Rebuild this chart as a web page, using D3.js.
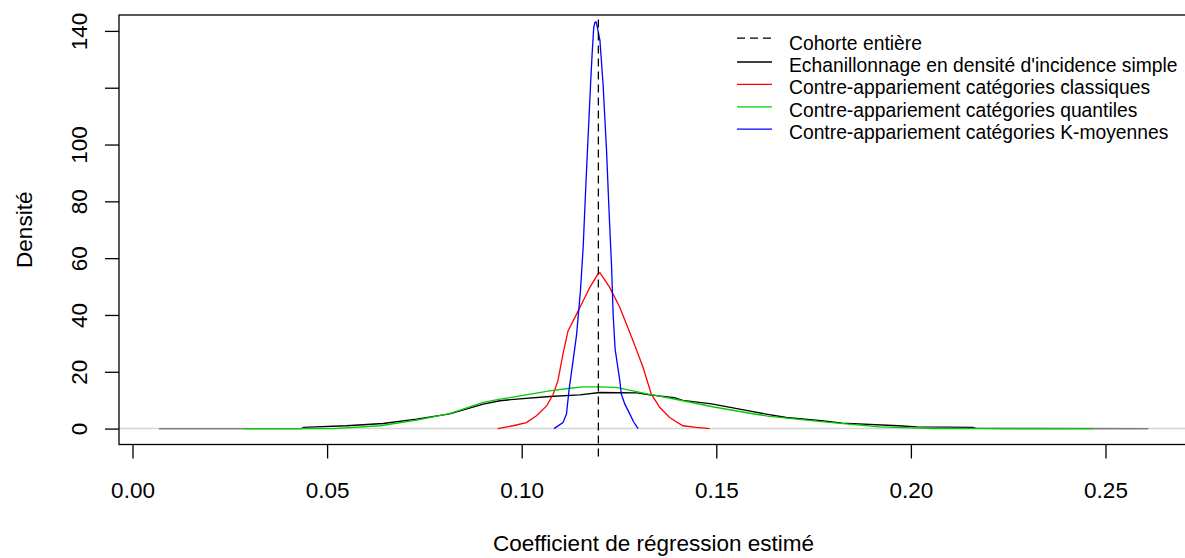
<!DOCTYPE html>
<html>
<head>
<meta charset="utf-8">
<script src="https://cdn.jsdelivr.net/npm/d3@7"></script>
<style>
  body { margin: 0; background: #fff; }
  svg { display: block; font-family: "Liberation Sans", Arial, Helvetica, sans-serif; }
</style>
</head>
<body>
<div id="chart"></div>
<script>
// Tick values / labels
const xTicks = [0.00, 0.05, 0.10, 0.15, 0.20, 0.25];
const yTicks = [0, 20, 40, 60, 80, 100, 120, 140];
const yTickLabels = ["0", "20", "40", "60", "80", "100", "", "140"]; // 120 dropped (overlap in R)

// Density curves: [coefficient, density]
const simpleData = [
  [0.0068, 0], [0.0435, 0], [0.0439, 0.4], [0.055, 1.0], [0.0644, 1.8], [0.073, 3.3],
  [0.0815, 5.2], [0.0901, 8.6], [0.0944, 9.8], [0.0987, 10.4], [0.1072, 11.3],
  [0.1149, 11.9], [0.1201, 12.7], [0.1296, 12.6], [0.1329, 11.9], [0.1392, 10.9],
  [0.1414, 9.9], [0.1488, 8.7], [0.1584, 6.2], [0.1632, 5.0], [0.168, 3.9],
  [0.1776, 2.7], [0.1823, 1.9], [0.1967, 1.0], [0.2015, 0.6], [0.2159, 0.4],
  [0.2168, 0.05], [0.261, 0]
];
const classicData = [
  [0.0938, 0], [0.0978, 1.0], [0.1012, 2.1], [0.1038, 4.5], [0.1064, 8.0], [0.1081, 12.1],
  [0.1093, 16.8], [0.1106, 26.2], [0.1119, 34.4], [0.1141, 40.3], [0.1158, 45.0],
  [0.1175, 49.7], [0.1196, 54.4], [0.1201, 54.9], [0.1226, 49.7], [0.1252, 42.7],
  [0.1286, 30.9], [0.1312, 21.5], [0.1333, 12.1], [0.1355, 7.4], [0.1380, 3.9],
  [0.1414, 1.0], [0.1449, 0.4], [0.1483, 0]
];
const quantileData = [
  [0.0284, 0], [0.0516, 0], [0.0636, 1.0], [0.073, 3.0], [0.0815, 5.3], [0.0901, 9.2],
  [0.0944, 10.4], [0.0969, 10.9], [0.1072, 13.3], [0.1124, 14.2], [0.1158, 14.7],
  [0.12, 14.7], [0.1243, 14.5], [0.1286, 13.3], [0.1325, 12.1], [0.1337, 11.9],
  [0.1414, 9.8], [0.1494, 7.6], [0.1586, 5.4], [0.1632, 4.4], [0.1776, 2.4],
  [0.1919, 0.6], [0.2063, 0], [0.247, 0]
];
const kmeansData = [
  [0.1083, 0], [0.1106, 2.1], [0.1115, 5.1], [0.1122, 14], [0.1132, 23.9], [0.1141, 33],
  [0.1151, 48.6], [0.1158, 64], [0.1165, 86.3], [0.1171, 103.8], [0.1177, 121.4],
  [0.1181, 132], [0.1185, 141], [0.1188, 143], [0.1191, 143.2], [0.1194, 141.5],
  [0.1201, 136.7], [0.1209, 121.4], [0.1218, 97.9], [0.1224, 77.9], [0.1231, 56.8],
  [0.1235, 40], [0.1240, 28], [0.1252, 17], [0.1256, 12.1], [0.1265, 8.6],
  [0.1278, 5.1], [0.1287, 2.5], [0.1299, 0]
];
const fullCohortCoef = 0.1197;

const legendLabels = [
  "Cohorte entière",
  "Echanillonnage en densité d'incidence simple",
  "Contre-appariement catégories classiques",
  "Contre-appariement catégories quantiles",
  "Contre-appariement catégories K-moyennes"
];
const legendColors = ["#000000", "#000000", "#ff0000", "#00cd00", "#0000ff"];

// Layout
const width = 1185, height = 558;
const plot = { left: 119, right: 1188, top: 15, bottom: 444.5 };

const svg = d3.select("#chart").append("svg")
  .attr("width", width)
  .attr("height", height);

// Scales (R style 4% padding)
const x = d3.scaleLinear()
  .domain([-0.00347, 0.2712])
  .range([plot.left, plot.right]);

const y = d3.scaleLinear()
  .domain([-5.6, 145.6])
  .range([plot.bottom, plot.top]);

const line = d3.line()
  .x(d => x(d[0]))
  .y(d => y(d[1]));

// Curves, drawn in R order
svg.append("path")
  .datum(simpleData)
  .attr("d", line)
  .attr("fill", "none")
  .attr("stroke", legendColors[1])
  .attr("stroke-width", 1.3);

// horizontal reference at 0
svg.append("line")
  .attr("x1", plot.left).attr("x2", plot.right)
  .attr("y1", y(0)).attr("y2", y(0))
  .attr("stroke", "#bebebe")
  .attr("stroke-opacity", 0.65)
  .attr("stroke-width", 1.5);

[[classicData, 2], [quantileData, 3], [kmeansData, 4]].forEach(([data, i]) => {
  svg.append("path")
    .datum(data)
    .attr("d", line)
    .attr("fill", "none")
    .attr("stroke", legendColors[i])
    .attr("stroke-width", 1.3);
});

// Full cohort estimate
svg.append("line")
  .attr("x1", x(fullCohortCoef)).attr("x2", x(fullCohortCoef))
  .attr("y1", y(144)).attr("y2", y(-10.5))
  .attr("stroke", "#000")
  .attr("stroke-width", 1.3)
  .attr("stroke-dasharray", "8,5");

// Box
svg.append("rect")
  .attr("x", plot.left).attr("y", plot.top)
  .attr("width", plot.right - plot.left)
  .attr("height", plot.bottom - plot.top)
  .attr("fill", "none")
  .attr("stroke", "#000")
  .attr("stroke-width", 1.3);

// X axis
const xAxis = svg.append("g")
  .attr("transform", `translate(0,${plot.bottom})`)
  .call(d3.axisBottom(x).tickValues(xTicks).tickSize(14).tickFormat(d3.format(".2f")));
xAxis.select(".domain").remove();
xAxis.selectAll("line").attr("stroke-width", 1.3);
xAxis.selectAll("text")
  .attr("y", 53).attr("dy", 0)
  .style("font-size", "22.5px")
  .style("font-family", "'Liberation Sans', Arial, sans-serif")
  .attr("fill", "#000");

// Y axis
const yAxis = svg.append("g")
  .attr("transform", `translate(${plot.left},0)`)
  .call(d3.axisLeft(y).tickValues(yTicks).tickSize(14).tickFormat((d, i) => yTickLabels[i]));
yAxis.select(".domain").remove();
yAxis.selectAll("line").attr("stroke-width", 1.3);
yAxis.selectAll("text")
  .attr("transform", "rotate(-90)")
  .attr("x", 0).attr("y", -31.7).attr("dy", 0)
  .attr("text-anchor", "middle")
  .style("font-size", "22.5px")
  .style("font-family", "'Liberation Sans', Arial, sans-serif")
  .attr("fill", "#000");

// Axis titles
svg.append("text")
  .attr("x", (plot.left + plot.right) / 2)
  .attr("y", 551)
  .attr("text-anchor", "middle")
  .style("font-size", "22.5px")
  .text("Coefficient de régression estimé");

svg.append("text")
  .attr("transform", `translate(31.5,${(plot.top + plot.bottom) / 2}) rotate(-90)`)
  .attr("text-anchor", "middle")
  .style("font-size", "22.5px")
  .text("Densité");

// Legend (no box)
const legend = svg.append("g");
legendLabels.forEach((label, i) => {
  const base = 49.6 + i * 22.4;
  legend.append("line")
    .attr("x1", 737).attr("x2", 772)
    .attr("y1", base - (i === 0 ? 11.5 : 10)).attr("y2", base - (i === 0 ? 11.5 : 10))
    .attr("stroke", legendColors[i])
    .attr("stroke-width", 1.3)
    .attr("stroke-dasharray", i === 0 ? "8,5" : null);
  legend.append("text")
    .attr("x", 789).attr("y", base)
    .style("font-size", "19.3px")
    .text(label);
});
</script>
</body>
</html>
